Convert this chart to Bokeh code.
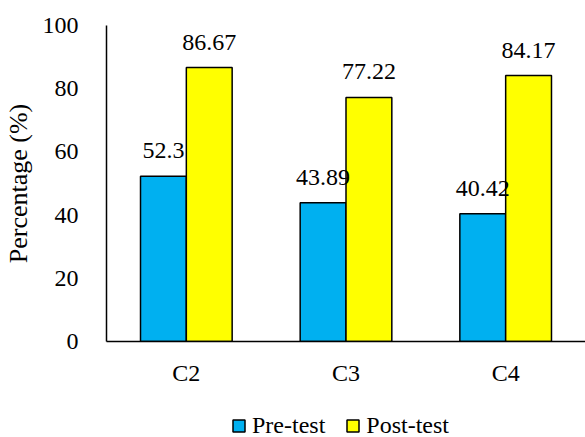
from bokeh.plotting import figure
from bokeh.layouts import column
from bokeh.models import (ColumnDataSource, FactorRange, Range1d, Legend, LegendItem,
                          FixedTicker, LabelSet)
from bokeh.transform import dodge
from bokeh.embed import file_html
from bokeh.resources import INLINE

# Data
categories = ["C2", "C3", "C4"]
pre_test = [52.3, 43.89, 40.42]
post_test = [86.67, 77.22, 84.17]
y_ticks = [0, 20, 40, 60, 80, 100]
series_names = ["Pre-test", "Post-test"]

FONT = "Liberation Serif"
BLUE = "#00B0F0"
YELLOW = "#FFFF00"
BAR_W = 0.287
LEG_H = 44

src = ColumnDataSource(data=dict(
    cat=categories,
    pre=pre_test,
    post=post_test,
    pre_lbl=[f"{v:g}" for v in pre_test],
    post_lbl=[f"{v:g}" for v in post_test],
))

p = figure(
    width=585, height=437 - LEG_H,
    x_range=FactorRange(*categories, range_padding=0),
    y_range=Range1d(0, 100),
    output_backend="svg", toolbar_location=None,
    min_border_left=105, min_border_right=0,
    min_border_top=25, min_border_bottom=437 - LEG_H - 341,
)
p.outline_line_color = None
p.xgrid.visible = False
p.ygrid.visible = False

p.vbar(x=dodge("cat", -BAR_W / 2, range=p.x_range), top="pre", width=BAR_W,
       source=src, fill_color=BLUE, line_color="black", line_width=1.5)
p.vbar(x=dodge("cat", BAR_W / 2, range=p.x_range), top="post", width=BAR_W,
       source=src, fill_color=YELLOW, line_color="black", line_width=1.5)

# Value labels above the bars
for col, lbl, off in (("pre", "pre_lbl", -BAR_W / 2), ("post", "post_lbl", BAR_W / 2)):
    p.add_layout(LabelSet(
        x=dodge("cat", off, range=p.x_range), y=col, text=lbl, source=src,
        text_align="center", text_baseline="alphabetic", y_offset=18,
        text_font=FONT, text_font_size="24px", text_color="black",
    ))

# Axes
p.yaxis.ticker = FixedTicker(ticks=y_ticks)
p.yaxis.axis_label = "Percentage (%)"
p.yaxis.axis_label_text_font = FONT
p.yaxis.axis_label_text_font_style = "normal"
p.yaxis.axis_label_text_font_size = "26px"
p.yaxis.axis_label_text_color = "black"
p.yaxis.axis_label_standoff = 7
p.yaxis.major_label_text_font = FONT
p.yaxis.major_label_text_font_size = "24px"
p.yaxis.major_label_text_color = "black"
p.yaxis.major_label_standoff = 22
p.yaxis.major_tick_line_color = None
p.yaxis.minor_tick_line_color = None
p.yaxis.axis_line_color = "black"
p.yaxis.axis_line_width = 1.5

p.xaxis.major_label_text_font = FONT
p.xaxis.major_label_text_font_size = "24px"
p.xaxis.major_label_text_color = "black"
p.xaxis.major_label_standoff = 12
p.xaxis.major_tick_line_color = None
p.xaxis.axis_line_color = "black"
p.xaxis.axis_line_width = 1.5

# Legend strip underneath the chart
leg = figure(
    width=585, height=LEG_H,
    x_range=Range1d(0, 1), y_range=Range1d(0, 1),
    output_backend="svg", toolbar_location=None,
    min_border=0,
)
leg.axis.visible = False
leg.grid.visible = False
leg.outline_line_color = None
# hidden swatch renderers: only their legend entries are drawn
swatches = [
    leg.vbar(x=[0.5], top=[1], width=0.1, fill_color=c, line_color="black",
             line_width=1.5, visible=False)
    for c in (BLUE, YELLOW)
]
legend = Legend(
    items=[LegendItem(label=n, renderers=[r]) for n, r in zip(series_names, swatches)],
    orientation="horizontal",
    location=(125, -2),
    padding=0, margin=0, spacing=20,
    glyph_width=15, glyph_height=15, label_standoff=6,
    label_text_font=FONT, label_text_font_size="24px", label_text_color="black",
    border_line_color=None, background_fill_alpha=0,
    inactive_fill_alpha=0,
)
leg.add_layout(legend, "center")

open("out.html", "w").write(file_html(column(p, leg, spacing=0), INLINE))
